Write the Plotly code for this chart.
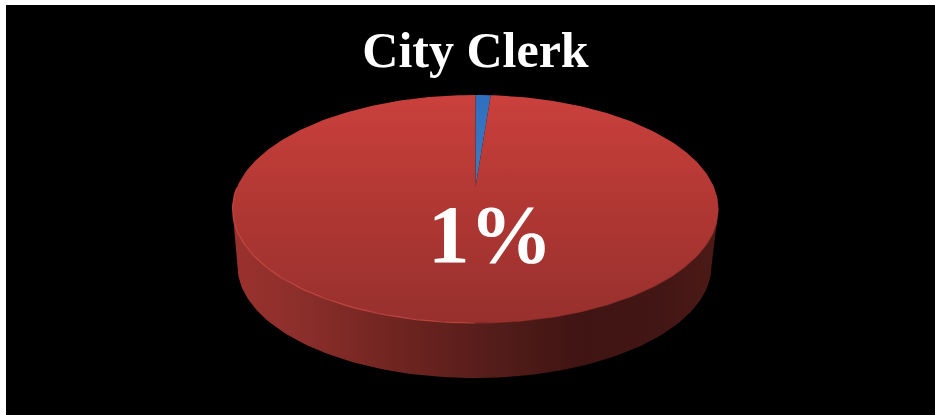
import numpy as np
import plotly.graph_objects as go

# --- data ---
title_text = "City Clerk"
categories = ["City Clerk", "Rest of budget"]
values = [1, 99]
slice_colors = [["#3f7cc0", "#2f6fc0"], ["#97302d", "#b03733", "#ca403c"]]
label_text = "1%"

# --- pie geometry (in the axes' units) ---
CX, CY, RX, RY = 475.5, 209.0, 243.0, 114.0   # top ellipse
APEX_Y = 187.0                                 # perspective centre of the top face
BX, BY, BRX, BRY = 474.5, 266.0, 237.0, 112.0  # bottom ellipse


def top_pt(frac):
    a = 2 * np.pi * np.asarray(frac)
    return CX + RX * np.sin(a), CY - RY * np.cos(a)


def bot_pt(theta):
    return BX + BRX * np.cos(theta), BY + BRY * np.sin(theta)


fig = go.Figure()

# side wall: front half of the top rim, then back along the bottom ellipse
rim = np.linspace(0.25, 0.75, 121)
tx, ty = top_pt(rim)
th = np.linspace(np.pi, 0, 121)
bx, by = bot_pt(th)
fig.add_trace(go.Scatter(
    x=np.r_[tx, bx], y=np.r_[ty, by], mode="lines", line=dict(width=0),
    fill="toself", hoverinfo="skip", showlegend=False,
    fillgradient=dict(type="horizontal", colorscale=[
        [0.0, "#9a322e"], [0.12, "#8e2f2b"], [0.35, "#6e2420"],
        [0.55, "#521c19"], [0.72, "#3f1413"], [0.88, "#421614"], [1.0, "#4c1a17"],
    ]),
))

# top face: one slice per value, clockwise from twelve o'clock
total = sum(values)
start = 0.0
for name, v, cols in zip(categories, values, slice_colors):
    end = start + v / total
    fr = np.linspace(start, end, max(4, int(360 * (end - start))))
    x, y = top_pt(fr)
    x = np.r_[CX, x, CX]
    y = np.r_[APEX_Y, y, APEX_Y]
    stops = np.linspace(0, 1, len(cols))
    fig.add_trace(go.Scatter(
        x=x, y=y, mode="lines", line=dict(width=0), fill="toself", name=name,
        showlegend=False, hoverinfo="skip",
        fillgradient=dict(type="vertical", colorscale=[[float(s), c] for s, c in zip(stops, cols)]),
    ))
    start = end

# thin lit edge along the front rim
for lo, hi, col in [(0.50, 0.78, "rgba(214,80,74,0.75)"), (0.27, 0.50, "rgba(170,55,50,0.55)")]:
    ex, ey = top_pt(np.linspace(lo, hi, 80))
    fig.add_trace(go.Scatter(x=ex, y=ey, mode="lines", line=dict(width=1.2, color=col),
                             hoverinfo="skip", showlegend=False))

fig.add_annotation(x=490, y=234, xref="x", yref="y", text=f"<b>{label_text}</b>", showarrow=False,
                   font=dict(family="Liberation Serif", size=83, color="white"))

fig.update_layout(
    width=935, height=415, autosize=False,
    margin=dict(l=6, t=5, r=0, b=0),
    paper_bgcolor="white", plot_bgcolor="black",
    title=dict(text=f"<b>{title_text}</b>", x=475.5 / 935, xanchor="center", y=1 - 49 / 415, yanchor="middle",
               font=dict(family="Liberation Serif", size=50, color="white")),
    xaxis=dict(range=[6, 935], visible=False, fixedrange=True),
    yaxis=dict(range=[415, 5], visible=False, fixedrange=True),
)

fig.write_html("out.html", config=dict(displayModeBar=False),
               post_script="document.body.style.margin='0';")
